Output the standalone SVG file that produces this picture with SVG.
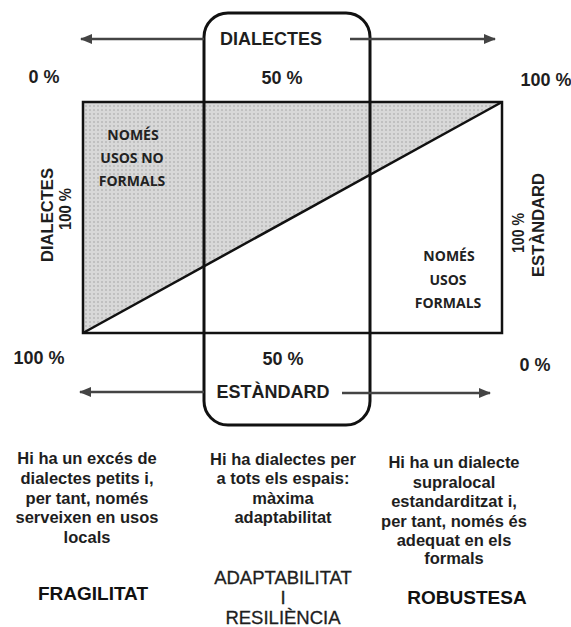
<svg xmlns="http://www.w3.org/2000/svg" width="571" height="627" viewBox="0 0 571 627">
  <style>
    .t { font-family: "Liberation Sans", Arial, sans-serif; font-weight: bold; fill: #1e1e1e; text-anchor: middle; }
    .big { font-size: 18px; }
    .body { font-size: 16.5px; }
    .title { font-size: 19px; fill: #111; }
    .reg { font-family: "Liberation Sans", Arial, sans-serif; font-weight: normal; font-size: 18.5px; fill: #1e1e1e; text-anchor: middle; stroke: #1e1e1e; stroke-width: 0.3; }
    .os { font-family: "Open Sans", sans-serif; font-weight: bold; font-size: 14px; fill: #222; text-anchor: middle; }
    .rot { font-size: 16.5px; }
    .edge { fill: none; stroke: #111; stroke-width: 2.5; }
    .arrow { fill: none; stroke: #444; stroke-width: 2.5; marker-end: url(#ah); }
  </style>
  <defs>
    <pattern id="dots" width="4" height="4" patternUnits="userSpaceOnUse">
      <rect width="4" height="4" fill="#d8d8d8"/>
      <rect x="1" y="1" width="2" height="2" fill="#c0c0c0"/>
    </pattern>
    <marker id="ah" markerWidth="12" markerHeight="10" refX="11" refY="5" orient="auto" markerUnits="userSpaceOnUse">
      <path d="M0,0 L12,5 L0,10 Z" fill="#444"/>
    </marker>
  </defs>

  <rect width="571" height="627" fill="#ffffff"/>

  <g id="chart">
    <polygon points="83,102 502,102 83,333" fill="url(#dots)"/>
    <rect class="edge" x="83" y="102" width="419" height="231"/>
    <line class="edge" x1="83" y1="333" x2="502" y2="102"/>
    <text class="os" x="133" y="140">NOMÉS</text>
    <text class="os" x="132" y="163">USOS NO</text>
    <text class="os" x="132" y="186">FORMALS</text>
    <text class="os" x="449" y="261">NOMÉS</text>
    <text class="os" x="448" y="285">USOS</text>
    <text class="os" x="448" y="308">FORMALS</text>
  </g>

  <g id="middle-box">
    <rect x="204" y="13" width="166" height="412" rx="24" ry="24" fill="none" stroke="#111" stroke-width="3"/>
  </g>

  <g id="connectors">
    <line class="arrow" x1="204" y1="39" x2="81" y2="39"/>
    <line class="arrow" x1="350" y1="39" x2="495" y2="39"/>
    <line class="arrow" x1="204" y1="392" x2="80" y2="392"/>
    <line class="arrow" x1="342" y1="393" x2="490" y2="393"/>
  </g>

  <g id="top-labels">
    <text class="t big" x="271" y="45">DIALECTES</text>
    <text class="t big" x="44" y="83">0 %</text>
    <text class="t big" x="282" y="84">50 %</text>
    <text class="t big" x="546" y="86">100 %</text>
  </g>

  <g id="bottom-labels">
    <text class="t big" x="39" y="364">100 %</text>
    <text class="t big" x="283" y="365">50 %</text>
    <text class="t big" x="535" y="371">0 %</text>
    <text class="t big" x="273" y="398">ESTÀNDARD</text>
  </g>

  <g id="side-labels">
    <text class="t rot" transform="translate(53,215) rotate(-90)" textLength="94" lengthAdjust="spacingAndGlyphs">DIALECTES</text>
    <text class="t rot" transform="translate(71,209) rotate(-90)" textLength="42" lengthAdjust="spacingAndGlyphs">100 %</text>
    <text class="t rot" transform="translate(524,233) rotate(-90)" textLength="40" lengthAdjust="spacingAndGlyphs">100 %</text>
    <text class="t rot" transform="translate(544,225) rotate(-90)" textLength="104" lengthAdjust="spacingAndGlyphs">ESTÀNDARD</text>
  </g>

  <g id="col-fragilitat">
    <text class="t body" x="87" y="464">Hi ha un excés de</text>
    <text class="t body" x="87" y="484">dialectes petits i,</text>
    <text class="t body" x="87" y="504">per tant, només</text>
    <text class="t body" x="87" y="523">serveixen en usos</text>
    <text class="t body" x="87" y="543">locals</text>
    <text class="t title" x="93" y="600">FRAGILITAT</text>
  </g>

  <g id="col-adaptabilitat">
    <text class="t body" x="283" y="465">Hi ha dialectes per</text>
    <text class="t body" x="283" y="484">a tots els espais:</text>
    <text class="t body" x="283" y="504">màxima</text>
    <text class="t body" x="283" y="523">adaptabilitat</text>
    <text class="reg" x="283" y="584">ADAPTABILITAT</text>
    <text class="reg" x="283" y="604">I</text>
    <text class="reg" x="283" y="624">RESILIÈNCIA</text>
  </g>

  <g id="col-robustesa">
    <text class="t body" x="454" y="468">Hi ha un dialecte</text>
    <text class="t body" x="454" y="488">supralocal</text>
    <text class="t body" x="454" y="507">estandarditzat i,</text>
    <text class="t body" x="454" y="527">per tant, només és</text>
    <text class="t body" x="454" y="546">adequat en els</text>
    <text class="t body" x="454" y="564">formals</text>
    <text class="t title" x="467" y="604">ROBUSTESA</text>
  </g>
</svg>
